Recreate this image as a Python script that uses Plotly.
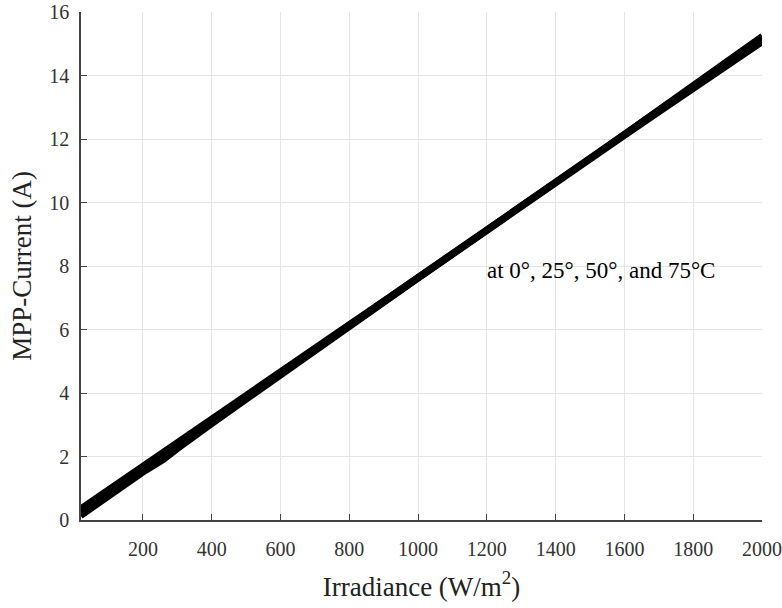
import plotly.graph_objects as go

irradiance = [20, 100, 200, 260, 300, 400, 500, 600, 700, 800, 900, 1000,
              1100, 1200, 1300, 1400, 1500, 1600, 1700, 1800, 1900, 2000]
imp_0C = [0.38, 0.98, 1.72, 2.18, 2.48, 3.21, 3.95, 4.69, 5.44, 6.18, 6.92, 7.66,
          8.40, 9.15, 9.90, 10.65, 11.41, 12.17, 12.94, 13.70, 14.47, 15.25]
imp_25C = [0.29, 0.89, 1.64, 2.09, 2.40, 3.14, 3.89, 4.64, 5.39, 6.14, 6.89, 7.63,
           8.38, 9.13, 9.88, 10.63, 11.39, 12.14, 12.90, 13.65, 14.41, 15.18]
imp_50C = [0.21, 0.81, 1.56, 2.01, 2.32, 3.08, 3.83, 4.58, 5.35, 6.10, 6.85, 7.61,
           8.36, 9.11, 9.86, 10.61, 11.37, 12.12, 12.86, 13.61, 14.35, 15.10]
imp_75C = [0.12, 0.73, 1.48, 1.88, 2.22, 3.01, 3.78, 4.54, 5.31, 6.07, 6.83, 7.59,
           8.34, 9.10, 9.85, 10.60, 11.35, 12.09, 12.83, 13.56, 14.29, 15.03]
series = {"0°C": imp_0C, "25°C": imp_25C, "50°C": imp_50C, "75°C": imp_75C}

x_ticks = [200, 400, 600, 800, 1000, 1200, 1400, 1600, 1800, 2000]
y_ticks = [0, 2, 4, 6, 8, 10, 12, 14, 16]

fig = go.Figure()
for name, vals in series.items():
    fig.add_trace(go.Scatter(x=irradiance, y=vals, mode="lines", name=name,
                             line=dict(color="black", width=5.5)))

font = "Liberation Serif, Times New Roman, serif"
fig.add_annotation(x=1196, y=7.87, text="at 0°, 25°, 50°, and 75°C", showarrow=False,
                   xanchor="left", yanchor="middle", font=dict(family=font, size=23, color="black"))

axis_common = dict(showgrid=True, gridcolor="#e5e5e5", gridwidth=1, zeroline=False,
                   showline=True, linecolor="#444444", linewidth=1.5, ticks="inside",
                   ticklen=6, tickcolor="#444444", mirror=False, automargin=False,
                   tickfont=dict(family=font, size=20, color="#333333"))
fig.update_xaxes(range=[20, 2000], tickvals=x_ticks, ticklabelstandoff=10,
                 title=dict(text="Irradiance (W/m<sup>2</sup>)", standoff=18,
                            font=dict(family=font, size=27, color="#222222")),
                 **axis_common)
fig.update_yaxes(range=[0, 16], tickvals=y_ticks, ticklabelstandoff=6,
                 title=dict(text="MPP-Current (A)", standoff=10,
                            font=dict(family=font, size=27, color="#222222")),
                 **axis_common)
fig.update_layout(width=782, height=608, margin=dict(l=81, r=20, t=12, b=88),
                  plot_bgcolor="white", paper_bgcolor="white", showlegend=False)
fig.write_html("out.html")
